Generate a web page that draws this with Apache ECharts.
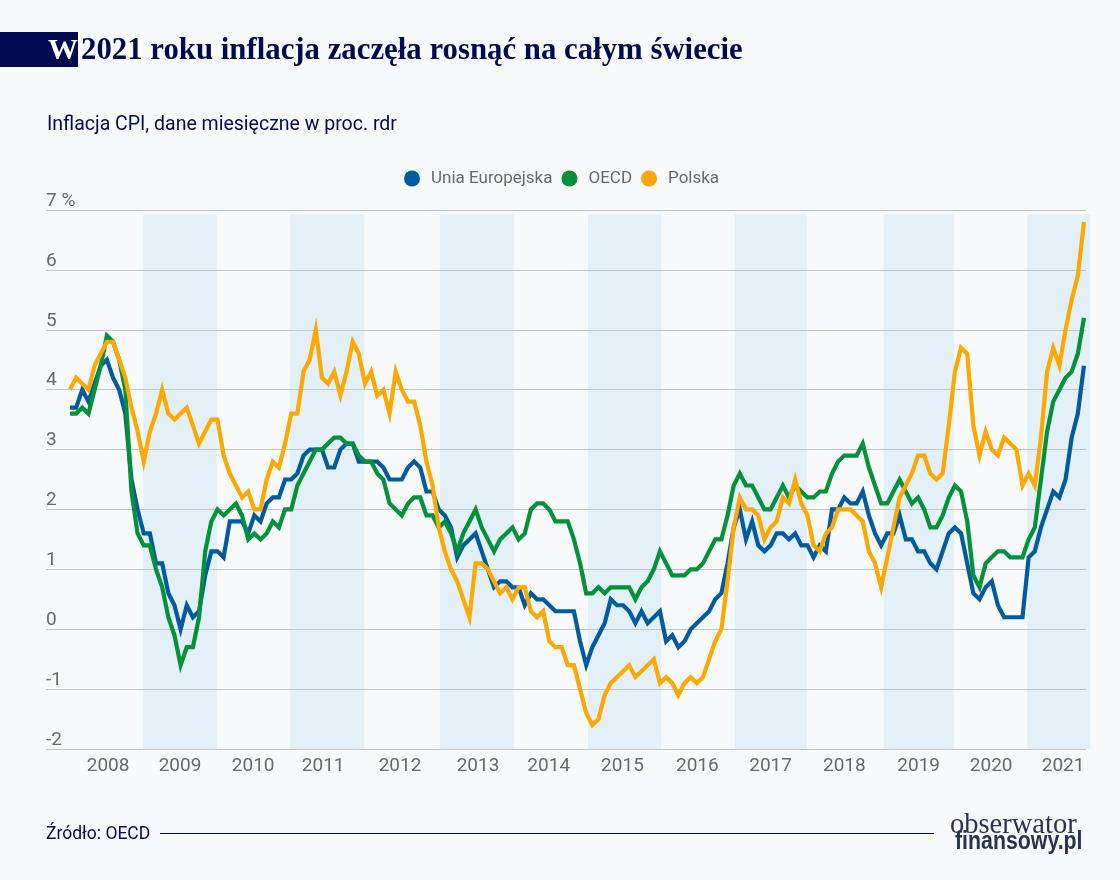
<!DOCTYPE html>
<html>
<head>
<meta charset="utf-8">
<title>Inflacja CPI</title>
<script src="https://cdn.jsdelivr.net/npm/echarts@6/dist/echarts.min.js"></script>
<style>
html, body { margin: 0; padding: 0; background: #f7f9fb; }
#chart { width: 1120px; height: 880px; }
</style>
</head>
<body>
<div id="chart"></div>
<script>
// dane miesieczne, styczen 2008 - pazdziernik 2021
var euValues = [
	3.7,3.7,4.0,3.8,4.1,4.4,4.5,4.2,4.0,3.6,2.5,2.0,
	1.6,1.6,1.1,1.1,0.6,0.4,0.0,0.4,0.2,0.3,0.9,1.3,
	1.3,1.2,1.8,1.8,1.8,1.6,1.9,1.8,2.1,2.2,2.2,2.5,
	2.5,2.6,2.9,3.0,3.0,3.0,2.7,2.7,3.0,3.1,3.1,2.8,
	2.8,2.8,2.8,2.7,2.5,2.5,2.5,2.7,2.8,2.7,2.3,2.3,
	2.0,1.9,1.7,1.2,1.4,1.5,1.6,1.3,1.0,0.7,0.8,0.8,
	0.7,0.7,0.4,0.6,0.5,0.5,0.4,0.3,0.3,0.3,0.3,-0.2,
	-0.6,-0.3,-0.1,0.1,0.5,0.4,0.4,0.3,0.1,0.3,0.1,0.2,
	0.3,-0.2,-0.1,-0.3,-0.2,0.0,0.1,0.2,0.3,0.5,0.6,1.1,
	1.7,2.0,1.5,1.8,1.4,1.3,1.4,1.6,1.6,1.5,1.6,1.4,
	1.4,1.2,1.4,1.3,2.0,2.0,2.2,2.1,2.1,2.3,1.9,1.6,
	1.4,1.6,1.6,1.9,1.5,1.5,1.3,1.3,1.1,1.0,1.3,1.6,
	1.7,1.6,1.1,0.6,0.5,0.7,0.8,0.4,0.2,0.2,0.2,0.2,
	1.2,1.3,1.7,2.0,2.3,2.2,2.5,3.2,3.6,4.4
];
var oecdValues = [
	3.6,3.6,3.7,3.6,4.0,4.4,4.9,4.8,4.5,4.0,2.3,1.6,
	1.4,1.4,1.0,0.7,0.2,-0.1,-0.6,-0.3,-0.3,0.2,1.3,1.8,
	2.0,1.9,2.0,2.1,1.9,1.5,1.6,1.5,1.6,1.8,1.7,2.0,
	2.0,2.4,2.6,2.8,3.0,3.0,3.1,3.2,3.2,3.1,3.1,2.9,
	2.8,2.8,2.6,2.5,2.1,2.0,1.9,2.1,2.2,2.2,1.9,1.9,
	1.7,1.8,1.6,1.3,1.6,1.8,2.0,1.7,1.5,1.3,1.5,1.6,
	1.7,1.5,1.6,2.0,2.1,2.1,2.0,1.8,1.8,1.8,1.5,1.1,
	0.6,0.6,0.7,0.6,0.7,0.7,0.7,0.7,0.5,0.7,0.8,1.0,
	1.3,1.1,0.9,0.9,0.9,1.0,1.0,1.1,1.3,1.5,1.5,1.9,
	2.4,2.6,2.4,2.4,2.2,2.0,2.0,2.2,2.4,2.2,2.4,2.3,
	2.2,2.2,2.3,2.3,2.6,2.8,2.9,2.9,2.9,3.1,2.7,2.4,
	2.1,2.1,2.3,2.5,2.3,2.1,2.2,2.0,1.7,1.7,1.9,2.2,
	2.4,2.3,1.8,0.9,0.7,1.1,1.2,1.3,1.3,1.2,1.2,1.2,
	1.5,1.7,2.5,3.3,3.8,4.0,4.2,4.3,4.6,5.2
];
var polandValues = [
	4.0,4.2,4.1,4.0,4.4,4.6,4.8,4.8,4.5,4.2,3.7,3.3,
	2.8,3.3,3.6,4.0,3.6,3.5,3.6,3.7,3.4,3.1,3.3,3.5,
	3.5,2.9,2.6,2.4,2.2,2.3,2.0,2.0,2.5,2.8,2.7,3.1,
	3.6,3.6,4.3,4.5,5.0,4.2,4.1,4.3,3.9,4.3,4.8,4.6,
	4.1,4.3,3.9,4.0,3.6,4.3,4.0,3.8,3.8,3.4,2.8,2.4,
	1.7,1.3,1.0,0.8,0.5,0.2,1.1,1.1,1.0,0.8,0.6,0.7,
	0.5,0.7,0.7,0.3,0.2,0.3,-0.2,-0.3,-0.3,-0.6,-0.6,-1.0,
	-1.4,-1.6,-1.5,-1.1,-0.9,-0.8,-0.7,-0.6,-0.8,-0.7,-0.6,-0.5,
	-0.9,-0.8,-0.9,-1.1,-0.9,-0.8,-0.9,-0.8,-0.5,-0.2,0.0,0.8,
	1.7,2.2,2.0,2.0,1.9,1.5,1.7,1.8,2.2,2.1,2.5,2.1,
	1.9,1.4,1.3,1.6,1.7,2.0,2.0,2.0,1.9,1.8,1.3,1.1,
	0.7,1.2,1.7,2.2,2.4,2.6,2.9,2.9,2.6,2.5,2.6,3.4,
	4.3,4.7,4.6,3.4,2.9,3.3,3.0,2.9,3.2,3.1,3.0,2.4,
	2.6,2.4,3.2,4.3,4.7,4.4,5.0,5.5,5.9,6.8
];

// etykiety lat i miesiace (numer od stycznia 2008), nad ktorymi stoja
var yearLabels = ['2008','2009','2010','2011','2012','2013','2014','2015','2016','2017','2018','2019','2020','2021'];
var yearLabelMonths = [6.2,17.9,29.8,41.2,53.7,66.4,77.9,89.9,102.1,114,126,138.1,149.9,161.6];

// jasne pasy co drugi rok
var bandStarts = [11.9,35.8,60.2,84.3,108.2,132.4,155.8];
var bandEnds = [23.9,47.9,72.2,96.2,119.9,143.8,166];

function withMonths(values) {
	return values.map(function(v, i) {
		return [i, v];
	});
}

function lineSeries(name, color, values) {
	return {
		name: name,
		type: 'line',
		data: withMonths(values),
		showSymbol: false,
		symbol: 'none',
		smooth: false,
		z: 3,
		itemStyle: { color: color },
		lineStyle: { color: color, width: 4.2, join: 'miter', cap: 'butt' }
	};
}

var textFont = 'Roboto';
var navy = '#000a50';
var greyText = '#666a6e';

var chart = echarts.init(document.getElementById('chart'));
chart.setOption({
	animation: false,
	backgroundColor: '#f7f9fb',
	title: [
		{ text: 'W', left: 48, top: 36, padding: 0, textStyle: { fontFamily: 'Liberation Serif', fontWeight: 'bold', fontSize: 30, color: '#fff' } },
		{ text: '2021 roku inflacja zaczęła rosnąć na całym świecie', left: 81, top: 36, padding: 0, textStyle: { fontFamily: 'Liberation Serif', fontWeight: 'bold', fontSize: 30.8, color: navy } },
		{ text: 'Inflacja CPI, dane miesięczne w proc. rdr', left: 47, top: 115, padding: 0, textStyle: { fontFamily: textFont, fontWeight: 'normal', fontSize: 19.5, color: navy } },
		{ text: 'Źródło: OECD', left: 46, top: 826, padding: 0, textStyle: { fontFamily: textFont, fontWeight: 'normal', fontSize: 17.5, color: navy } }
	],
	graphic: [
		{ type: 'rect', shape: { x: 0, y: 32, width: 78, height: 35 }, style: { fill: navy } },
		{ type: 'line', shape: { x1: 160, y1: 833.5, x2: 934, y2: 833.5 }, style: { stroke: navy, lineWidth: 1 } },
		{ type: 'text', x: 950, y: 811, style: { text: 'obserwator', font: '28.5px "Liberation Serif"', fill: '#2b3350' } },
		{ type: 'text', x: 955, y: 829, scaleX: 0.82, style: { text: 'finansowy.pl', font: 'bold 26px "Liberation Sans"', fill: '#2b3350' } }
	],
	legend: {
		data: ['Unia Europejska', 'OECD', 'Polska'],
		icon: 'circle',
		left: 404,
		top: 170,
		padding: 0,
		itemWidth: 16,
		itemHeight: 16,
		itemGap: 9,
		textStyle: { fontFamily: textFont, fontSize: 17, color: greyText, padding: [0, 0, 0, 6] }
	},
	grid: { left: 46, top: 210, width: 1040, height: 539 },
	xAxis: {
		type: 'value',
		min: -3.906,
		max: 165.33,
		splitLine: { show: false },
		axisLine: { show: false },
		axisTick: { show: false },
		axisLabel: {
			customValues: yearLabelMonths,
			formatter: function(value) {
				return yearLabels[yearLabelMonths.indexOf(value)];
			},
			fontFamily: textFont,
			fontSize: 19,
			color: greyText,
			margin: 8
		}
	},
	yAxis: {
		type: 'value',
		min: -2,
		max: 7,
		interval: 1,
		axisLine: { show: false },
		axisTick: { show: false },
		splitLine: { lineStyle: { color: '#c2c5ca', width: 1 } },
		axisLabel: {
			inside: true,
			margin: 0,
			align: 'left',
			verticalAlign: 'bottom',
			fontFamily: textFont,
			fontSize: 19,
			color: greyText,
			lineHeight: 18,
			formatter: function(value) {
				return value === 7 ? '7 %' : String(value);
			}
		}
	},
	series: [
		{
			type: 'custom',
			silent: true,
			z: -1,
			encode: { x: [0, 1] },
			data: bandStarts.map(function(start, i) {
				return [start, bandEnds[i]];
			}),
			renderItem: function(params, api) {
				var a = api.coord([api.value(0), 6.92]);
				var b = api.coord([api.value(1), -2]);
				return {
					type: 'rect',
					shape: { x: a[0], y: a[1], width: b[0] - a[0], height: b[1] - a[1] },
					style: { fill: '#e3f0f8' }
				};
			}
		},
		lineSeries('Unia Europejska', '#005a9e', euValues),
		lineSeries('OECD', '#00913a', oecdValues),
		lineSeries('Polska', '#ffa800', polandValues)
	]
});
</script>
</body>
</html>
